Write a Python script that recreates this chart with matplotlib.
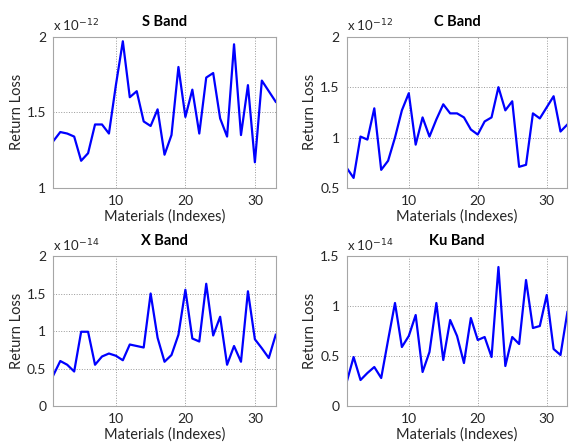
import matplotlib.pyplot as plt

plt.rcParams['font.family'] = ['Lato', 'DejaVu Sans']

x = list(range(1, 34))

s_band = [1.31, 1.37, 1.36, 1.34, 1.18, 1.23, 1.42, 1.42, 1.36, 1.68, 1.97,
          1.60, 1.64, 1.44, 1.41, 1.52, 1.22, 1.35, 1.80, 1.47, 1.65, 1.36,
          1.73, 1.76, 1.46, 1.34, 1.95, 1.35, 1.68, 1.17, 1.71, 1.64, 1.57]
c_band = [0.70, 0.60, 1.01, 0.98, 1.29, 0.68, 0.77, 1.00, 1.27, 1.44, 0.93,
          1.20, 1.01, 1.18, 1.33, 1.24, 1.24, 1.20, 1.08, 1.03, 1.16, 1.20,
          1.50, 1.27, 1.36, 0.71, 0.73, 1.24, 1.19, 1.30, 1.41, 1.06, 1.13]
x_band = [0.41, 0.60, 0.55, 0.46, 0.99, 0.99, 0.55, 0.66, 0.70, 0.67, 0.61,
          0.82, 0.80, 0.78, 1.50, 0.91, 0.59, 0.68, 0.95, 1.55, 0.90, 0.86,
          1.63, 0.94, 1.19, 0.55, 0.80, 0.59, 1.53, 0.89, 0.77, 0.64, 0.95]
ku_band = [0.24, 0.49, 0.26, 0.33, 0.39, 0.28, 0.66, 1.03, 0.59, 0.70, 0.91,
           0.34, 0.54, 1.03, 0.46, 0.86, 0.70, 0.43, 0.88, 0.66, 0.69, 0.49,
           1.39, 0.40, 0.69, 0.62, 1.26, 0.78, 0.80, 1.11, 0.57, 0.51, 0.94]

panels = [
    ('S Band', s_band, (1, 2), [1, 1.5, 2], ['1', '1.5', '2'], '-12'),
    ('C Band', c_band, (0.5, 2), [0.5, 1, 1.5, 2], ['0.5', '1', '1.5', '2'], '-12'),
    ('X Band', x_band, (0, 2), [0, 0.5, 1, 1.5, 2], ['0', '0.5', '1', '1.5', '2'], '-14'),
    ('Ku Band', ku_band, (0, 1.5), [0, 0.5, 1, 1.5], ['0', '0.5', '1', '1.5'], '-14'),
]

positions = [
    [0.0934, 0.5756, 0.3895, 0.3415],
    [0.6072, 0.5756, 0.3865, 0.3415],
    [0.0934, 0.0835, 0.3895, 0.3386],
    [0.6072, 0.0835, 0.3865, 0.3386],
]

fig = plt.figure(figsize=(5.71, 4.43), dpi=100)

for (title, vals, ylim, yt, ytl, expo), pos in zip(panels, positions):
    ax = fig.add_axes(pos)
    ax.plot(x, vals, color='#0000ff', linewidth=1.6)
    ax.set_xlim(1, 33)
    ax.set_ylim(*ylim)
    ax.set_xticks([10, 20, 30])
    ax.set_yticks(yt)
    ax.set_yticklabels(ytl)
    ax.grid(True, linestyle=':', color='#999999', linewidth=0.7)
    for sp in ax.spines.values():
        sp.set_color('#a6a6a6')
        sp.set_linewidth(0.8)
    ax.tick_params(length=0, labelsize=10, colors='#262626', pad=5)
    ax.set_title(title, fontsize=10.5, fontweight='bold', color='#000000', pad=8)
    ax.set_xlabel('Materials (Indexes)', fontsize=10.5, color='#262626', labelpad=2)
    ax.set_ylabel('Return Loss', fontsize=10.5, color='#262626', labelpad=2)
    ax.text(0.0, 1.015, 'x 10$^{' + expo + '}$', transform=ax.transAxes,
            fontsize=9.5, color='#262626', ha='left', va='bottom')

fig.savefig('out.png', dpi=100)
